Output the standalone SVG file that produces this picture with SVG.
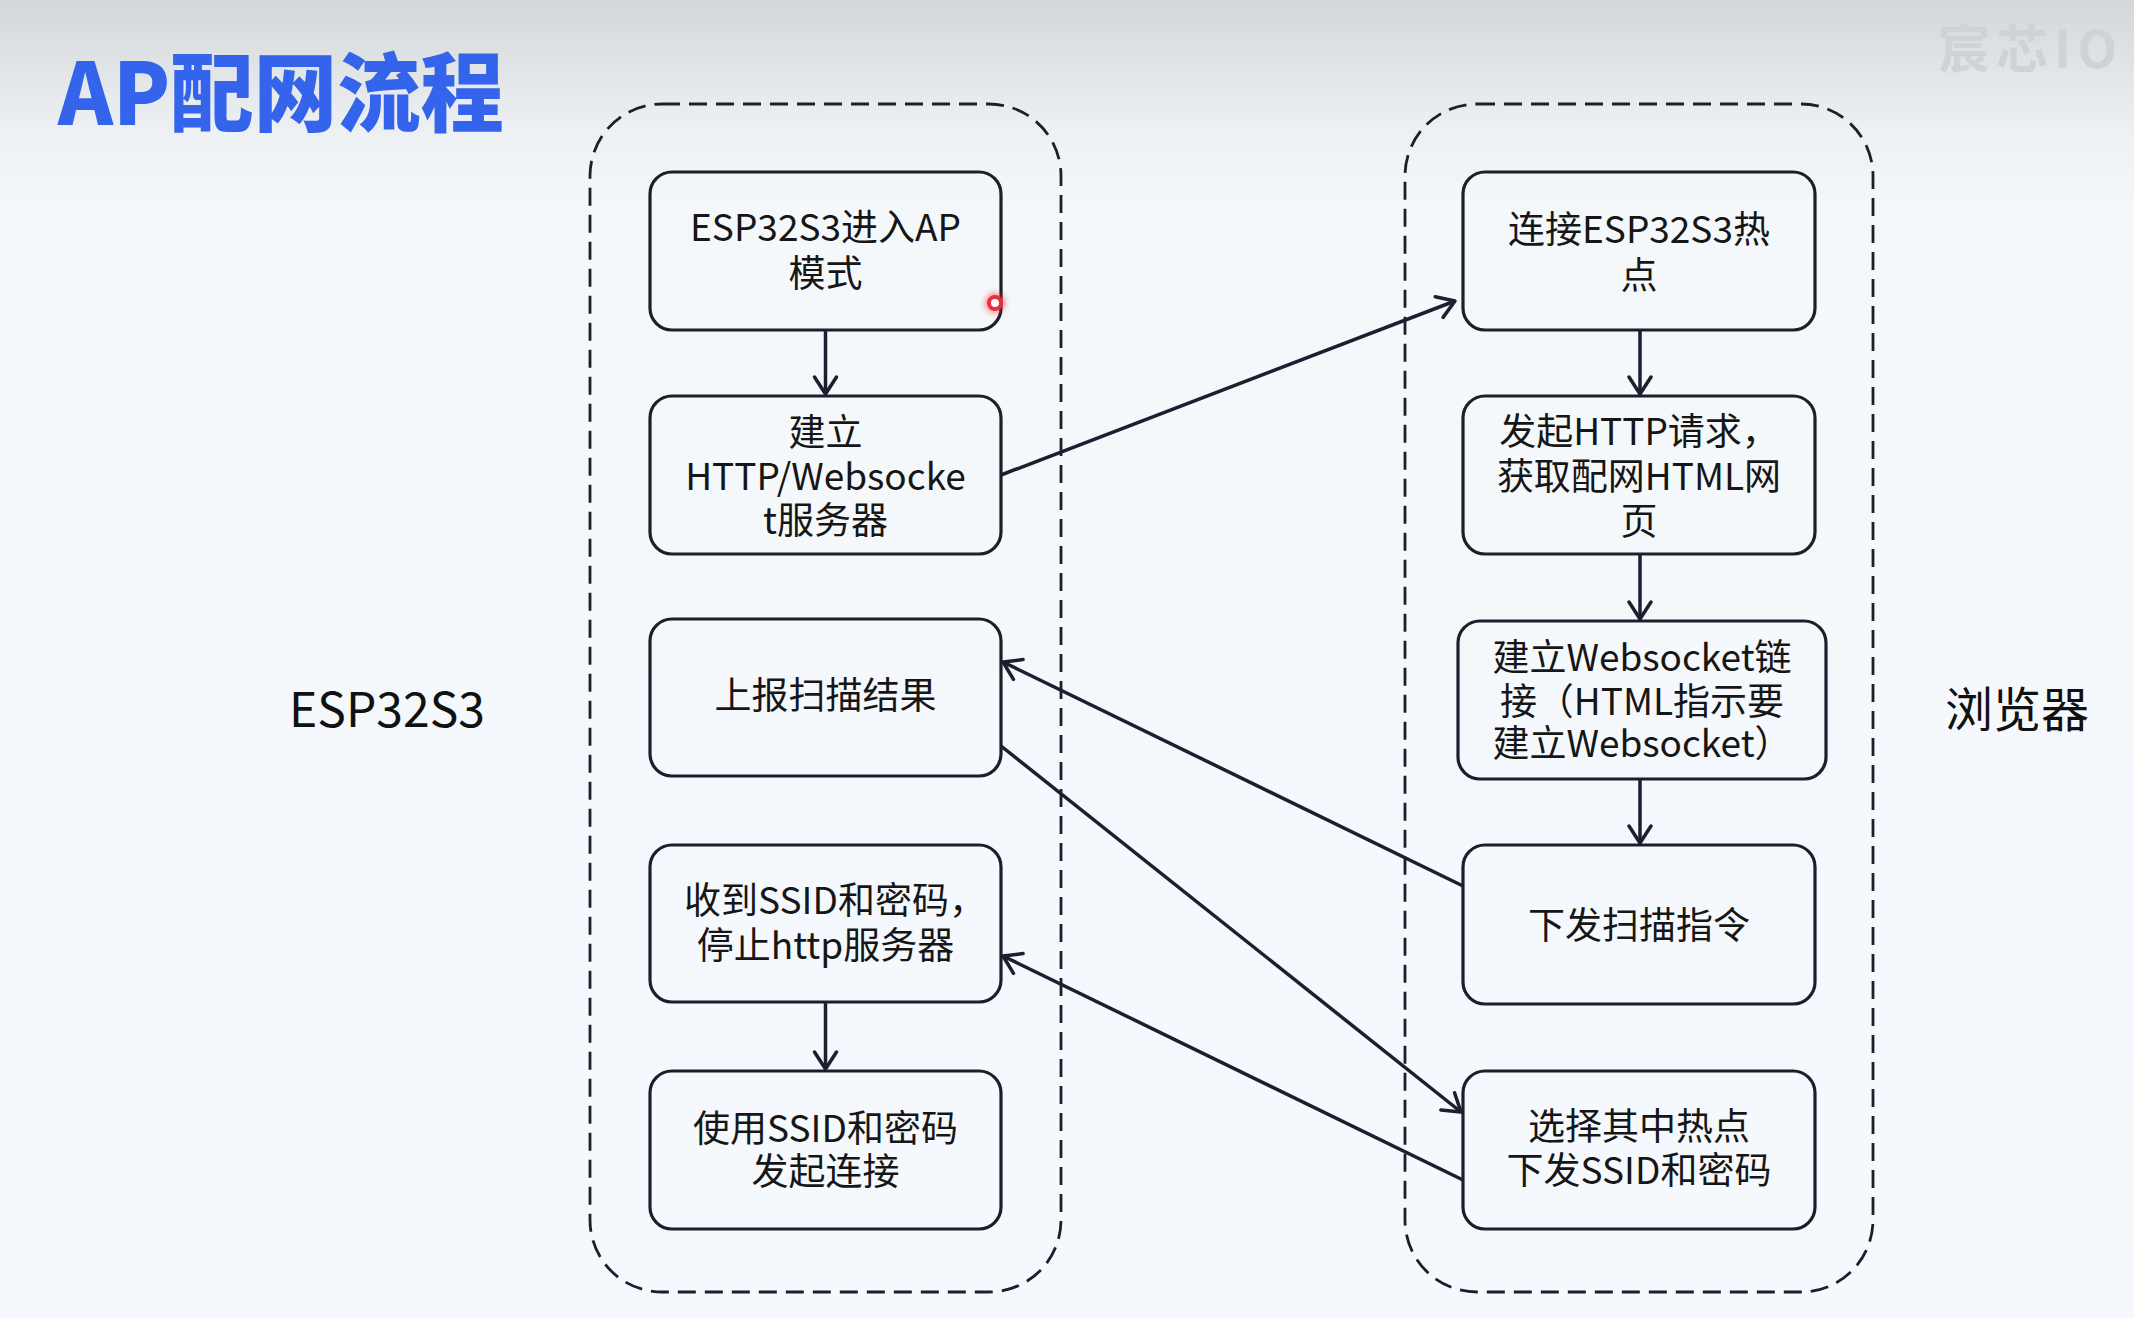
<svg xmlns="http://www.w3.org/2000/svg" width="2134" height="1318" viewBox="0 0 2134 1318">
<defs>
<linearGradient id="bg" x1="0" y1="0" x2="0" y2="1">
<stop offset="0" stop-color="#d4d7da"/>
<stop offset="0.1" stop-color="#eef1f4"/>
<stop offset="0.16" stop-color="#f4f8fb"/>
<stop offset="1" stop-color="#f5f9fd"/>
</linearGradient>
<marker id="ah" markerUnits="userSpaceOnUse" markerWidth="40" markerHeight="40" viewBox="-20 -20 40 40" refX="0" refY="0" orient="auto">
<path d="M-17,-11 L0,0 L-17,11" fill="none" stroke="#1a2030" stroke-width="3.5" stroke-linecap="round" stroke-linejoin="round"/>
</marker>
<filter id="glow" x="-1" y="-1" width="3" height="3"><feGaussianBlur stdDeviation="3"/></filter>
</defs>
<style>
.cont{fill:none;stroke:#1a1f2c;stroke-width:2.8;stroke-dasharray:18 9}
.box{fill:none;stroke:#1a1f2c;stroke-width:3.2}
.t{font-family:"Noto Sans CJK SC","Microsoft YaHei",sans-serif;font-size:37px;fill:#161616;text-anchor:middle}
.lbl{font-family:"Noto Sans CJK SC",sans-serif;font-size:48px;fill:#111;text-anchor:middle}
.conn line{stroke:#1a2030;stroke-width:3.5;marker-end:url(#ah)}
</style>
<rect width="2134" height="1318" fill="url(#bg)"/>
<text x="1938" y="68" font-family="'Noto Sans CJK SC',sans-serif" font-size="52" font-weight="bold" fill="#d0d3d6" letter-spacing="6">宸芯IO</text>
<g id="title" transform="translate(58,125) scale(0.97,1)">
<text x="0" y="0" font-family="'Noto Sans CJK SC',sans-serif" font-size="86" font-weight="900" fill="#3564ec">AP配网流程</text>
</g>
<g id="esp32s3-lane">
<rect class="cont" x="590" y="104" width="471" height="1188" rx="72"/>
<text class="lbl" x="387" y="727">ESP32S3</text>
</g>
<g id="browser-lane">
<rect class="cont" x="1405" y="104" width="468" height="1188" rx="72"/>
<text class="lbl" x="2017" y="727">浏览器</text>
</g>
<g id="l1"><rect class="box" x="650" y="172" width="351" height="158" rx="22"/>
<text class="t" x="825.5" y="241">ESP32S3进入AP</text><text class="t" x="825.5" y="287">模式</text></g>
<g id="l2"><rect class="box" x="650" y="396" width="351" height="158" rx="22"/>
<text class="t" x="825.5" y="446">建立</text><text class="t" x="825.5" y="490">HTTP/Websocke</text><text class="t" x="825.5" y="534">t服务器</text></g>
<g id="l3"><rect class="box" x="650" y="619" width="351" height="157" rx="22"/>
<text class="t" x="825.5" y="709">上报扫描结果</text></g>
<g id="l4"><rect class="box" x="650" y="845" width="351" height="157" rx="22"/>
<text class="t" x="835" y="914">收到SSID和密码，</text><text class="t" x="825.5" y="959">停止http服务器</text></g>
<g id="l5"><rect class="box" x="650" y="1071" width="351" height="158" rx="22"/>
<text class="t" x="825.5" y="1142">使用SSID和密码</text><text class="t" x="825.5" y="1185">发起连接</text></g>
<g id="r1"><rect class="box" x="1463" y="172" width="352" height="158" rx="22"/>
<text class="t" x="1639" y="243">连接ESP32S3热</text><text class="t" x="1639" y="289">点</text></g>
<g id="r2"><rect class="box" x="1463" y="396" width="352" height="158" rx="22"/>
<text class="t" x="1639" y="445">发起HTTP请求，</text><text class="t" x="1639" y="490">获取配网HTML网</text><text class="t" x="1639" y="535">页</text></g>
<g id="r3"><rect class="box" x="1458" y="621" width="368" height="158" rx="22"/>
<text class="t" x="1642" y="671">建立Websocket链</text><text class="t" x="1642" y="715">接（HTML指示要</text><text class="t" x="1642" y="757">建立Websocket）</text></g>
<g id="r4"><rect class="box" x="1463" y="845" width="352" height="159" rx="22"/>
<text class="t" x="1639" y="939">下发扫描指令</text></g>
<g id="r5"><rect class="box" x="1463" y="1071" width="352" height="158" rx="22"/>
<text class="t" x="1639" y="1140">选择其中热点</text><text class="t" x="1639" y="1184">下发SSID和密码</text></g>
<g id="connectors" class="conn">
<line x1="825.5" y1="330" x2="825.5" y2="394"/>
<line x1="825.5" y1="1002" x2="825.5" y2="1069"/>
<line x1="1640" y1="330" x2="1640" y2="394"/>
<line x1="1640" y1="554" x2="1640" y2="619"/>
<line x1="1640" y1="779" x2="1640" y2="843"/>
<line x1="1001" y1="475" x2="1455" y2="301"/>
<line x1="1463" y1="886" x2="1003" y2="662"/>
<line x1="1001" y1="746" x2="1461" y2="1112"/>
<line x1="1463" y1="1180" x2="1003" y2="956"/>
</g>
<g id="cursor">
<circle cx="995" cy="303" r="10" fill="#ff2030" opacity="0.55" filter="url(#glow)"/>
<circle cx="995" cy="303" r="6" fill="#ffffff" stroke="#e8303c" stroke-width="4"/>
</g>
</svg>
